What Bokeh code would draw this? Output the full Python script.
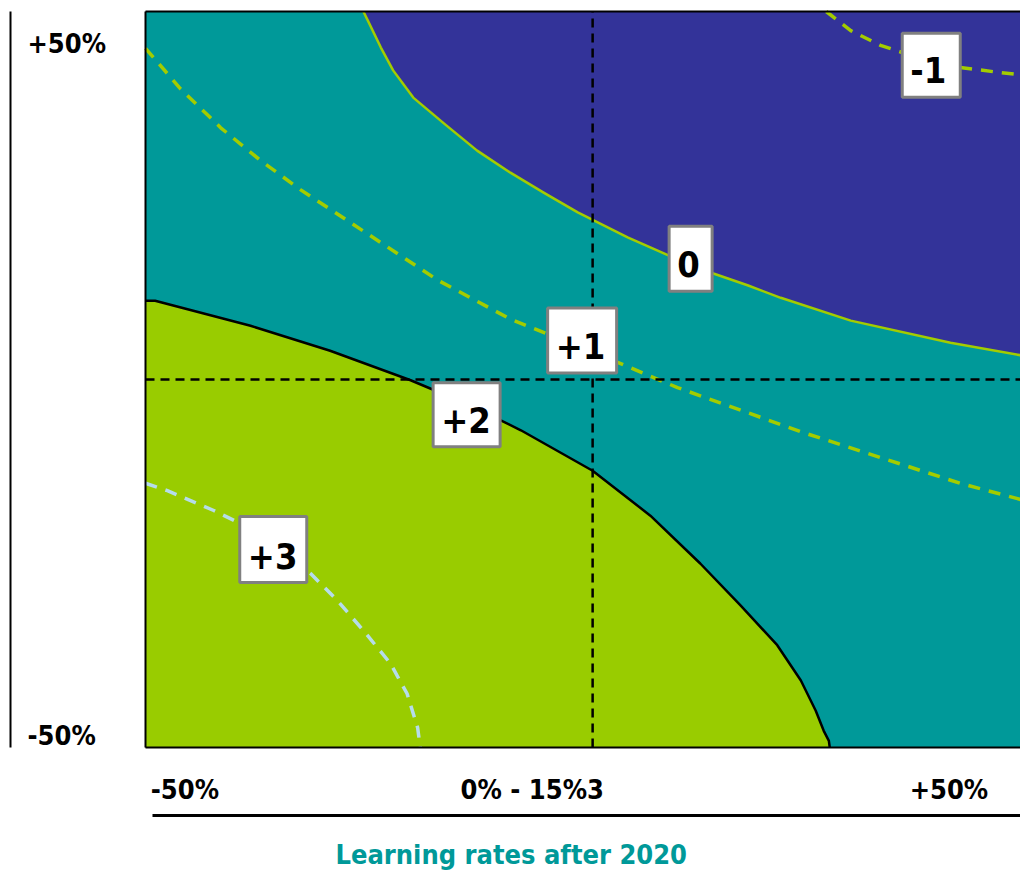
from bokeh.plotting import figure
from bokeh.models import Range1d
from bokeh.core.properties import value
from bokeh.embed import file_html
from bokeh.resources import INLINE

FONT = "DejaVu Sans Condensed"

# ---------------- data (percent units) ----------------
title_text = "Learning rates after 2020"
x_tick_labels = ["-50%", "0% - 15%3", "+50%"]
y_tick_labels = ["+50%", "-50%"]

# contour level 0 (boundary dark blue / teal)
c0_x = [-25.1, -24.6, -23.1, -21.7, -19.4, -15.9, -12.1, -8.3, -4.5, -0.6, 5.1, 9.7, 14.9, 18.8, 22.6, 30.6, 42.0, 50.0]
c0_y = [50.0, 48.8, 45.1, 42.0, 38.3, 34.8, 31.1, 28.1, 25.4, 22.7, 19.3, 16.9, 14.4, 12.8, 11.1, 8.0, 5.0, 3.3]
# contour level -1 (dashed)
cm1_x = [27.8, 30.6, 34.0, 38.6, 43.1, 47.7, 50.0]
cm1_y = [50.0, 47.4, 45.4, 43.6, 42.4, 41.7, 41.4]
# contour level +1 (dashed)
c1_x = [-50.0, -46.0, -41.4, -36.9, -32.3, -25.4, -16.6, -8.3, 2.0, 10.8, 24.9, 43.1, 50.0]
c1_y = [45.0, 39.5, 34.2, 29.8, 25.8, 20.4, 13.5, 8.2, 3.3, -1.1, -7.1, -14.1, -16.3]
# contour level +2 (boundary teal / green)
c2_x = [-50.0, -48.9, -38.0, -28.9, -19.7, -12.9, -7.1, 1.1, 7.7, 13.4, 18.0, 22.2, 24.9, 26.6, 27.5, 28.1, 28.2]
c2_y = [10.7, 10.7, 7.3, 3.9, -0.1, -3.5, -6.9, -12.4, -18.5, -25.0, -30.7, -36.1, -40.9, -45.0, -47.7, -49.1, -50.0]
# contour level +3 (dashed light blue)
c3_x = [-50.0, -47.5, -42.2, -39.1, -35.1, -31.1, -28.1, -25.1, -22.0, -20.1, -18.9, -18.6]
c3_y = [-14.1, -15.1, -17.8, -19.6, -22.6, -26.4, -30.0, -34.1, -38.6, -42.7, -47.3, -50.0]

# contour labels
label_text = ["-1", "0", "+1", "+2", "+3"]
label_x = [39.8, 12.3, -0.1, -13.3, -35.4]
label_y = [42.7, 16.4, 5.3, -4.8, -23.1]

# reference cross lines
cross_x = 1.1
cross_y = 0.0

# ---------------- styling / layout ----------------
BLUE = "#333399"
TEAL = "#009999"
GREEN = "#99CC00"
LINE_GREEN = "#A3CC00"
LIGHT_BLUE = "#B5DCEB"

PX_X = 8.75   # pixels per percent (x)
PX_Y = 7.36   # pixels per percent (y)
box_w = [58, 43, 69, 67, 67]
box_h = [64, 65, 65, 64, 66]

p = figure(width=1020, height=870, output_backend="svg", toolbar_location=None,
           x_range=Range1d(-50 - 145 / PX_X, 50),
           y_range=Range1d(-50 - 123 / PX_Y, 50 + 11 / PX_Y),
           x_axis_location=None, y_axis_location=None,
           min_border=0, outline_line_color=None, background_fill_color="white",
           border_fill_color="white")
p.grid.visible = False

# filled regions
p.quad(left=[-50], right=[50], bottom=[-50], top=[50], fill_color=TEAL, line_color=None)
p.patch(x=c0_x + [50], y=c0_y + [50], fill_color=BLUE, line_color=None)
p.patch(x=c2_x + [-50], y=c2_y + [-50], fill_color=GREEN, line_color=None)

# contour lines
p.line(c0_x, c0_y, line_color=LINE_GREEN, line_width=2.5, line_join="round")
p.line(cm1_x, cm1_y, line_color=LINE_GREEN, line_width=3.5, line_dash="12 9")
p.line(c1_x, c1_y, line_color=LINE_GREEN, line_width=3.5, line_dash="12 9")
p.line(c2_x, c2_y, line_color="black", line_width=2.5, line_join="round")
p.line(c3_x, c3_y, line_color=LIGHT_BLUE, line_width=3.5, line_dash="12 9")

# cross lines
p.segment(x0=[-50, cross_x], y0=[cross_y, -50], x1=[50, cross_x], y1=[cross_y, 50],
          line_color="black", line_width=2.5, line_dash="9 6")

# frame (left, top, bottom)
p.segment(x0=[-50, -50, -50], y0=[-50, 50, -50], x1=[-50, 50, 50], y1=[50, 50, -50],
          line_color="black", line_width=2)

# label boxes
p.rect(x=label_x, y=label_y, width=box_w, height=box_h, width_units="screen",
       height_units="screen", fill_color="white", line_color="#808080", line_width=3)
p.text(x=label_x, y=label_y, text=label_text,
       x_offset=[-w / 2 + 8 for w in box_w], y_offset=[h / 2 - 27 for h in box_h],
       text_font=value(FONT), text_font_style="bold", text_font_size="36px",
       text_align="left", text_baseline="alphabetic", text_color="black")

# y axis (line + labels)
y_axis_x = -50 - 135 / PX_X
p.segment(x0=[y_axis_x], y0=[-50], x1=[y_axis_x], y1=[50], line_color="black", line_width=2)
p.text(x=[-50 - 118 / PX_X] * 2, y=[45.6, -48.4], text=y_tick_labels,
       text_font=value(FONT), text_font_style="bold", text_font_size="27px",
       text_align="left", text_baseline="middle", text_color="black")

# x axis (labels + line)
x_line_y = 50 - 804 / PX_Y
p.segment(x0=[-50 + 7 / PX_X], y0=[x_line_y], x1=[50], y1=[x_line_y], line_color="black", line_width=3)
p.text(x=[-49.4, -5.8, 46.3], y=[-55.7] * 3, text=x_tick_labels,
       text_font=value(FONT), text_font_style="bold", text_font_size="27px",
       text_align=["left", "center", "right"], text_baseline="middle", text_color="black")

# title
p.text(x=[-8.2], y=[50 - 827 / PX_Y], text=[title_text],
       text_font=value(FONT), text_font_style="bold", text_font_size="27px",
       text_align="center", text_baseline="top", text_color=TEAL)

open("out.html", "w").write(file_html(p, INLINE))
